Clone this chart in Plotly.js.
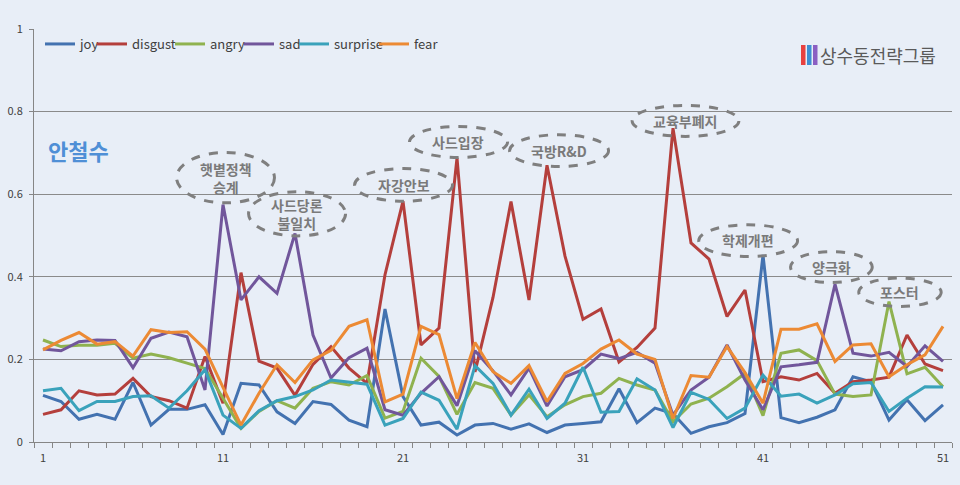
<!DOCTYPE html>
<html>
<head>
<meta charset="utf-8">
<script src="https://cdn.plot.ly/plotly-3.0.1.min.js"></script>
<style>html,body{margin:0;padding:0;background:#e8eef7;}#chart{width:960px;height:485px;}</style>
</head>
<body>
<div id="chart"></div>
<script>
const categories = Array.from({length: 51}, (_, i) => i + 1);
const seriesNames = ['joy', 'disgust', 'angry', 'sad', 'surprise', 'fear'];
const xTickLabels = ['1', '11', '21', '31', '41', '51'];

const joy = [0.113,0.098,0.055,0.067,0.055,0.144,0.041,0.079,0.079,0.090,
  0.018,0.142,0.138,0.073,0.045,0.098,0.091,0.053,0.037,0.322,
  0.110,0.041,0.048,0.017,0.041,0.045,0.031,0.044,0.023,0.041,
  0.045,0.049,0.129,0.047,0.082,0.069,0.021,0.037,0.047,0.069,
  0.453,0.059,0.047,0.060,0.078,0.158,0.146,0.053,0.102,0.052,0.090];
const disgust = [0.067,0.078,0.124,0.114,0.116,0.154,0.110,0.100,0.082,0.207,
  0.094,0.410,0.196,0.179,0.113,0.188,0.231,0.179,0.142,0.405,
  0.583,0.235,0.276,0.688,0.170,0.350,0.582,0.344,0.670,0.450,
  0.297,0.322,0.194,0.229,0.276,0.760,0.482,0.443,0.304,0.368,
  0.146,0.158,0.150,0.166,0.118,0.146,0.150,0.157,0.259,0.189,0.173];
const angry = [0.247,0.231,0.234,0.234,0.239,0.203,0.213,0.204,0.191,0.178,
  0.106,0.033,0.074,0.100,0.082,0.130,0.146,0.138,0.161,0.058,
  0.074,0.203,0.159,0.067,0.144,0.130,0.065,0.114,0.061,0.090,
  0.110,0.118,0.154,0.138,0.126,0.049,0.092,0.106,0.134,0.166,
  0.064,0.215,0.223,0.197,0.116,0.110,0.114,0.340,0.165,0.181,0.134];
const sad = [0.225,0.221,0.243,0.247,0.246,0.180,0.251,0.266,0.255,0.126,
  0.575,0.344,0.400,0.360,0.505,0.259,0.155,0.204,0.227,0.078,
  0.065,0.118,0.158,0.088,0.221,0.172,0.114,0.179,0.087,0.158,
  0.175,0.213,0.202,0.217,0.191,0.065,0.126,0.157,0.235,0.150,
  0.078,0.182,0.187,0.193,0.382,0.215,0.208,0.217,0.183,0.233,0.195];
const surprise = [0.124,0.130,0.076,0.098,0.098,0.110,0.112,0.082,0.124,0.175,
  0.065,0.033,0.076,0.100,0.110,0.126,0.150,0.145,0.140,0.041,
  0.057,0.121,0.101,0.031,0.185,0.142,0.065,0.128,0.057,0.094,
  0.181,0.072,0.074,0.153,0.126,0.035,0.120,0.103,0.057,0.082,
  0.162,0.111,0.116,0.094,0.114,0.141,0.144,0.074,0.106,0.134,0.133];
const fear = [0.223,0.246,0.265,0.237,0.243,0.208,0.272,0.265,0.267,0.225,
  0.132,0.041,0.118,0.187,0.144,0.199,0.222,0.280,0.296,0.097,
  0.116,0.280,0.260,0.105,0.241,0.170,0.142,0.185,0.098,0.166,
  0.190,0.225,0.247,0.213,0.200,0.057,0.161,0.157,0.231,0.168,
  0.094,0.273,0.273,0.286,0.195,0.235,0.238,0.158,0.187,0.211,0.280];

const seriesValues = [joy, disgust, angry, sad, surprise, fear];
const seriesColors = ['#4372b0', '#b43f3c', '#8fb24f', '#71569b', '#3aa2bb', '#ec8a34'];

const eventLabels = ['햇볕정책<br>승계', '사드당론<br>불일치', '자강안보', '사드입장', '국방R&D', '교육부폐지', '학제개편', '양극화', '포스터'];

const FONT = '"Noto Sans CJK KR", "Noto Sans", sans-serif';

// pixel -> paper helpers (plot area: x 34..952, y 29..442)
const px = v => (v - 34) / 918;
const py = v => 1 - (v - 29) / 413;

// legend entry left positions (px) in the reference
const legendStarts = [48, 100, 178, 247, 302, 382];
const legendIds = ['legend', 'legend2', 'legend3', 'legend4', 'legend5', 'legend6'];

const traces = seriesNames.map((name, i) => ({
  type: 'scatter', mode: 'lines', name: name,
  x: categories, y: seriesValues[i],
  line: {color: seriesColors[i], width: 3},
  legend: legendIds[i],
  hoverinfo: 'x+y+name'
}));

// ellipse layout boxes (axis coords): [x0, x1, y0, y1, textX, textY]
const boxes = [
  [8.42, 13.86, 0.579, 0.701, 11.14, 0.640],
  [12.42, 17.81, 0.499, 0.606, 15.11, 0.553],
  [18.31, 23.75, 0.583, 0.662, 21.03, 0.623],
  [21.36, 26.81, 0.689, 0.764, 24.08, 0.727],
  [26.92, 32.42, 0.667, 0.744, 29.67, 0.705],
  [33.73, 39.66, 0.740, 0.815, 36.69, 0.778],
  [37.43, 42.92, 0.449, 0.526, 40.17, 0.488],
  [42.53, 47.07, 0.386, 0.461, 44.81, 0.424],
  [46.32, 50.90, 0.328, 0.397, 48.61, 0.362]
];

const shapes = boxes.map(b => ({
  type: 'circle', xref: 'x', yref: 'y',
  x0: b[0], x1: b[1], y0: b[2], y1: b[3],
  line: {color: '#7f7f7f', width: 3, dash: 'dash'},
  fillcolor: 'rgba(0,0,0,0)', layer: 'above'
}));

[['#e8413f', 801, 805.5], ['#3f8fd2', 807, 811.5], ['#8b5fc3', 813, 817.5]].forEach(c => {
  shapes.push({type: 'rect', xref: 'paper', yref: 'paper', x0: px(c[1]), x1: px(c[2]), y0: py(65), y1: py(45),
    line: {width: 0}, fillcolor: c[0], layer: 'above'});
});

const annotations = boxes.map((b, i) => ({
  xref: 'x', yref: 'y', x: b[4], y: b[5], text: eventLabels[i], showarrow: false,
  xanchor: 'center', yanchor: 'middle',
  font: {family: FONT, size: 14, color: '#7a7a7a', weight: 'bold'}
}));
annotations.push({xref: 'paper', yref: 'paper', x: px(78), y: py(150), xanchor: 'center', yanchor: 'middle',
  text: '안철수', showarrow: false,
  font: {family: FONT, size: 22, color: '#4f8fd6', weight: 'bold'}});
annotations.push({xref: 'paper', yref: 'paper', x: px(818), y: py(55), xanchor: 'left', yanchor: 'middle',
  text: '상수동전략그룹', showarrow: false,
  font: {family: FONT, size: 18, color: '#5a5a5a'}});

const layout = {
  width: 960, height: 485,
  margin: {l: 34, r: 8, t: 29, b: 43},
  paper_bgcolor: '#e8eef7', plot_bgcolor: '#e8eef7',
  font: {family: FONT, size: 11, color: '#404040'},
  showlegend: true,
  xaxis: {range: [0.5, 51.5], tickmode: 'array', tickvals: [1, 11, 21, 31, 41, 51], ticktext: xTickLabels,
    ticks: '', showgrid: false, zeroline: false, showline: true, linecolor: '#868686', linewidth: 1,
    ticklabelstandoff: 6, tickfont: {size: 11, color: '#404040'},
    minor: {tick0: 0.5, dtick: 1, ticks: 'outside', ticklen: 5, tickcolor: '#868686', showgrid: false}},
  yaxis: {range: [0, 1], tickmode: 'linear', tick0: 0, dtick: 0.2, ticks: 'outside', ticklen: 4, tickcolor: '#868686',
    showgrid: true, gridcolor: '#8a8a8a', gridwidth: 1, zeroline: false, showline: true, linecolor: '#868686',
    ticklabelstandoff: 4, tickfont: {size: 11, color: '#404040'}},
  shapes: shapes,
  annotations: annotations
};

legendIds.forEach((id, i) => {
  layout[id] = {orientation: 'h', x: px(legendStarts[i] - 8), xanchor: 'left', y: py(44), yanchor: 'middle',
    bgcolor: 'rgba(0,0,0,0)', font: {family: FONT, size: 13, color: '#404040'}};
});

Plotly.newPlot('chart', traces, layout, {displayModeBar: false, staticPlot: true});
</script>
</body>
</html>
